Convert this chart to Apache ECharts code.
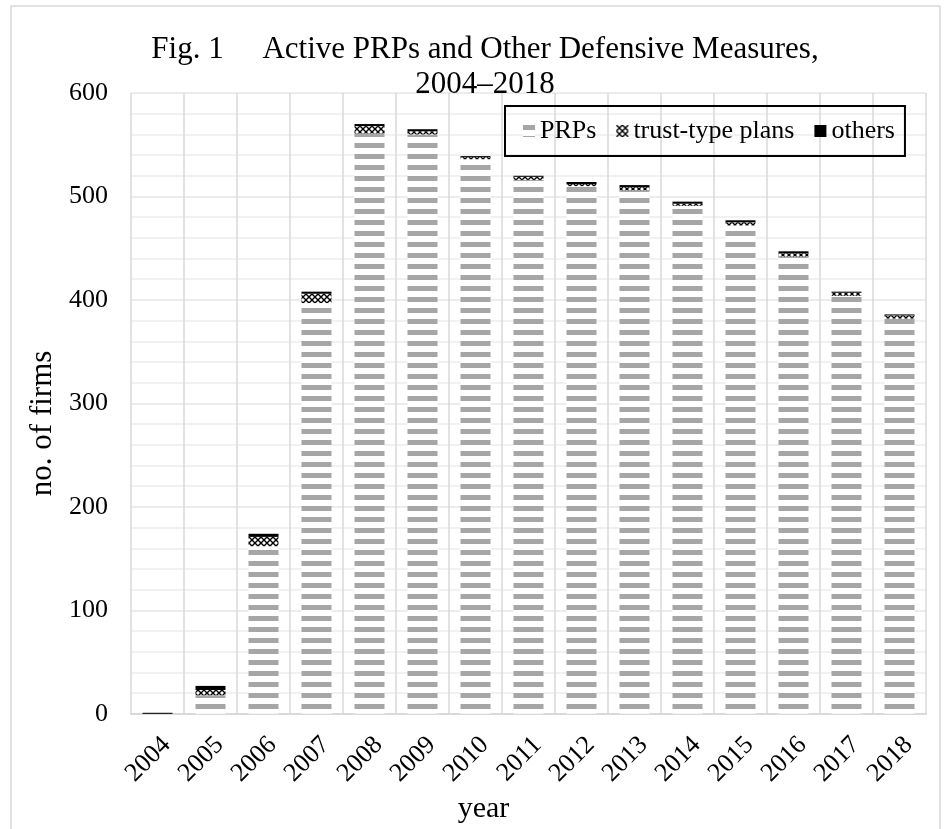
<!DOCTYPE html>
<html>
<head>
<meta charset="utf-8">
<script src="https://cdn.jsdelivr.net/npm/echarts@6/dist/echarts.min.js"></script>
<style>
html,body{margin:0;padding:0;background:#fff;}
#chart{width:949px;height:829px;}
</style>
</head>
<body>
<div id="chart"></div>
<script>
// ---- data ----
var years = ['2004','2005','2006','2007','2008','2009','2010','2011','2012','2013','2014','2015','2016','2017','2018'];
var prps  = [0, 18, 162, 397, 561, 560, 536, 516, 510, 506, 491, 472, 442, 404, 382];
var trust = [0,  5,   9,   9,   7,   3,   2,   3,   2,   3,   2,   3,   3,   3,   3];
var others= [1,  4,   3,   2,   2,   2,   1,   1,   2,   2,   2,   2,   2,   1,   1];
var yTicks = [0, 100, 200, 300, 400, 500, 600];

// ---- patterns ----
function stripePattern(){
  var c = document.createElement('canvas');
  c.width = 8; c.height = 11;
  var g = c.getContext('2d');
  g.fillStyle = '#ffffff'; g.fillRect(0,0,8,11);
  g.fillStyle = '#a6a6a6'; g.fillRect(0,0,8,5);
  return c;
}
function diamondPattern(){
  var c = document.createElement('canvas');
  c.width = 6; c.height = 6;
  var g = c.getContext('2d');
  g.fillStyle = '#ffffff'; g.fillRect(0,0,6,6);
  g.strokeStyle = '#000000'; g.lineWidth = 1.4;
  g.beginPath();
  g.moveTo(0,0); g.lineTo(6,6);
  g.moveTo(6,0); g.lineTo(0,6);
  g.stroke();
  return c;
}

var serif = '"Liberation Serif", "Times New Roman", serif';
var chart = echarts.init(document.getElementById('chart'), null, {renderer:'canvas'});

var option = {
  animation: false,
  backgroundColor: '#ffffff',
  graphic: [{
    type: 'rect', silent: true, z: -10,
    shape: {x: 11, y: 6, width: 929, height: 850},
    style: {fill: 'none', stroke: '#d9d9d9', lineWidth: 1.5}
  }],
  title: {
    text: 'Fig. 1     Active PRPs and Other Defensive Measures,\n2004\u20132018',
    left: 485, top: 32, textAlign: 'center', padding: 0,
    textStyle: {fontFamily: serif, fontSize: 31, fontWeight: 'normal', color: '#000', lineHeight: 35}
  },
  legend: {
    data: ['PRPs','trust-type plans','others'],
    left: 505, top: 106,
    padding: [12, 10, 12, 18],
    borderColor: '#000', borderWidth: 2,
    icon: 'rect',
    itemWidth: 12, itemHeight: 12, itemGap: 20,
    textStyle: {fontFamily: serif, fontSize: 26, color: '#000'}
  },
  grid: {left: 131, right: 23, top: 93, bottom: 113, containLabel: false},
  xAxis: {
    type: 'category',
    data: years,
    name: 'year',
    nameLocation: 'middle',
    nameGap: 80,
    nameTextStyle: {fontFamily: serif, fontSize: 30, color: '#000', padding: [0, 90, 0, 0]},
    axisLine: {show: true, lineStyle: {color: '#d9d9d9', width: 2}},
    axisTick: {show: false},
    axisLabel: {rotate: 45, fontFamily: serif, fontSize: 26, color: '#000', margin: 18,
                interval: 0, verticalAlign: 'top'},
    splitLine: {show: true, interval: 0, lineStyle: {color: '#d9d9d9', width: 1.5}}
  },
  yAxis: {
    type: 'value',
    min: yTicks[0], max: yTicks[yTicks.length-1], interval: 100,
    name: 'no. of firms',
    nameLocation: 'middle',
    nameGap: 48,
    nameRotate: 90,
    nameTextStyle: {fontFamily: serif, fontSize: 31, color: '#000', padding: [0, 40, 0, 0]},
    axisLine: {show: false},
    axisTick: {show: false},
    axisLabel: {fontFamily: serif, fontSize: 26, color: '#000', margin: 23},
    splitLine: {show: true, lineStyle: {color: '#e6e6e6', width: 1.5}},
    minorTick: {show: false, splitNumber: 5},
    minorSplitLine: {show: true, lineStyle: {color: '#ededed', width: 1.5}}
  },
  series: [
    {name: 'PRPs', type: 'bar', stack: 'all', barWidth: 30, data: prps,
     itemStyle: {color: {image: stripePattern(), repeat: 'repeat'}}},
    {name: 'trust-type plans', type: 'bar', stack: 'all', barWidth: 30, data: trust,
     itemStyle: {color: {image: diamondPattern(), repeat: 'repeat'}}},
    {name: 'others', type: 'bar', stack: 'all', barWidth: 30, data: others,
     itemStyle: {color: '#000000'}}
  ]
};
chart.setOption(option);
</script>
</body>
</html>
